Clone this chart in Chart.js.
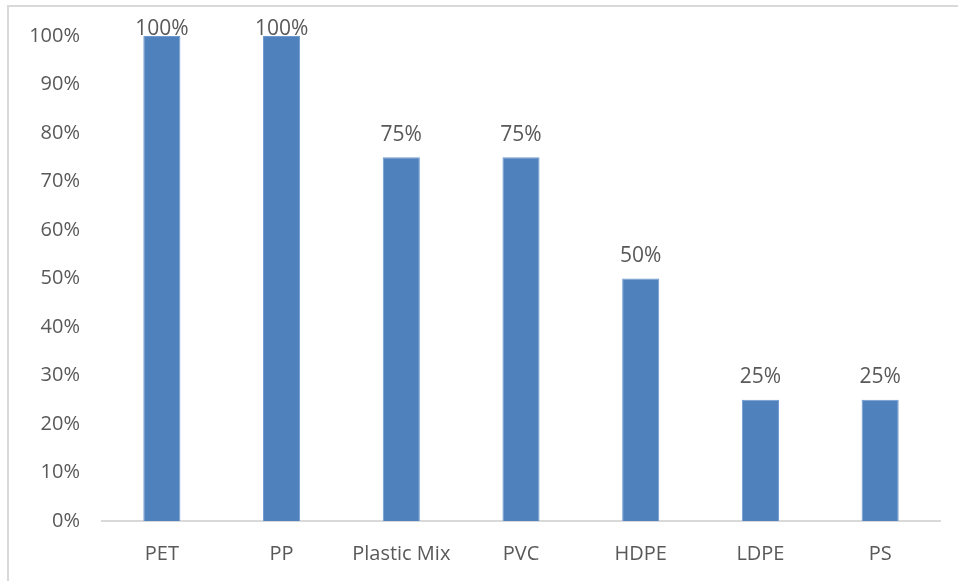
<!DOCTYPE html>
<html>
<head>
<meta charset="utf-8">
<script src="https://cdn.jsdelivr.net/npm/chart.js@4"></script>
<style>
    body { margin: 0; background: #fff; }
    #wrap { position: relative; width: 958px; height: 581px; }
    #frame {
        position: absolute; left: 7px; top: 5px; right: 0; bottom: 0;
        border-top: 2px solid #d9d9d9; border-left: 2px solid #d9d9d9;
        pointer-events: none;
    }
</style>
</head>
<body>
<div id="wrap">
    <canvas id="plasticChart" width="958" height="581"></canvas>
    <div id="frame"></div>
</div>
<script>
// Recycling rate per plastic type
var categories = ['PET', 'PP', 'Plastic Mix', 'PVC', 'HDPE', 'LDPE', 'PS'];
var rates = [100, 100, 75, 75, 50, 25, 25];
var yTicks = [0, 10, 20, 30, 40, 50, 60, 70, 80, 90, 100];

var textColor = '#595959';

// Value labels above each bar, kept inside the canvas top
var valueLabels = {
    id: 'valueLabels',
    afterDatasetsDraw: function(chart) {
        var ctx = chart.ctx;
        var meta = chart.getDatasetMeta(0);
        ctx.save();
        ctx.font = '21px "Open Sans"';
        ctx.fillStyle = textColor;
        ctx.textAlign = 'center';
        ctx.textBaseline = 'bottom';
        meta.data.forEach(function(bar, i) {
            var y = Math.max(bar.y - 12, 40);
            ctx.fillText(rates[i] + '%', bar.x, y);
        });
        ctx.restore();
    }
};

var ctx = document.getElementById('plasticChart').getContext('2d');
new Chart(ctx, {
    type: 'bar',
    data: {
        labels: categories,
        datasets: [{
            data: rates,
            backgroundColor: '#4f81bd',
            borderColor: '#6f9ad0',
            borderWidth: 1,
            barPercentage: 0.31,
            categoryPercentage: 1
        }]
    },
    options: {
        responsive: false,
        animation: false,
        layout: { padding: { top: 36, right: 18, left: 0, bottom: 0 } },
        plugins: {
            legend: { display: false },
            tooltip: { enabled: false }
        },
        scales: {
            x: {
                grid: { display: false, drawTicks: false },
                border: { display: true, color: '#d9d9d9', width: 2 },
                ticks: { color: textColor, font: { family: 'Open Sans', size: 20 }, padding: 21 },
                afterFit: function(scale) { scale.height = 60; }
            },
            y: {
                min: 0,
                max: 100,
                grid: { display: false, drawTicks: false },
                border: { display: false },
                afterBuildTicks: function(scale) {
                    scale.ticks = yTicks.map(function(v) { return { value: v }; });
                },
                ticks: {
                    color: textColor,
                    font: { family: 'Open Sans', size: 20 },
                    padding: 22,
                    callback: function(v) { return v + '%'; }
                },
                afterFit: function(scale) { scale.width = 102; }
            }
        }
    },
    plugins: [valueLabels]
});
</script>
</body>
</html>
